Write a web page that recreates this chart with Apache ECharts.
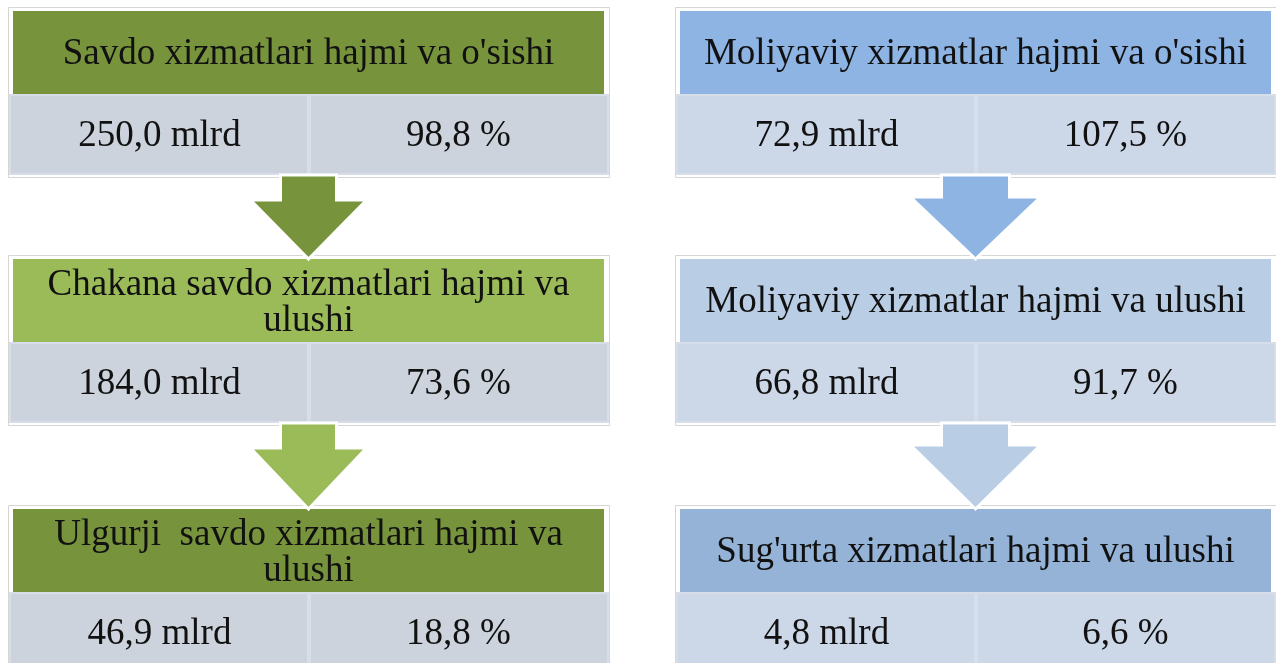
<!DOCTYPE html>
<html><head><meta charset="utf-8">
<script src="https://cdn.jsdelivr.net/npm/echarts@6/dist/echarts.min.js"></script>
<style>html,body{margin:0;padding:0;background:#fff;}#c{width:1276px;height:663px;}</style>
</head><body><div id="c"></div>
<script>
// ---- data ----
const panelNames = ['savdo', 'moliya'];
const savdoTitles = ["Savdo xizmatlari hajmi va o'sishi", "Chakana savdo xizmatlari hajmi va\nulushi", "Ulgurji  savdo xizmatlari hajmi va\nulushi"];
const savdoAmounts = [250.0, 184.0, 46.9];
const savdoShares = [98.8, 73.6, 18.8];
const moliyaTitles = ["Moliyaviy xizmatlar hajmi va o'sishi", "Moliyaviy xizmatlar hajmi va ulushi", "Sug'urta xizmatlari hajmi va ulushi"];
const moliyaAmounts = [72.9, 66.8, 4.8];
const moliyaShares = [107.5, 91.7, 6.6];
const amountUnit = 'mlrd';
const shareUnit = '%';

// ---- styles ----
const headerColors = [['#77933c', '#9bbb59', '#77933c'], ['#8eb4e3', '#b9cde5', '#95b3d7']];
const arrowColors = [['#77933c', '#9bbb59'], ['#8eb4e3', '#b9cde5']];
const cellColors = ['#ccd3dc', '#ccd7e8'];
const FONT = '"Liberation Serif", "Times New Roman", serif';
const FS = 37;

// ---- layout (axis units = pixels of a hidden grid) ----
const panelX = [8, 675];
const panelW = 601;
const boxTop = [7, 255, 505];
const arrowShaftHalf = [28, 34];
const arrowHeadHalf = [58, 65];

const titles = [savdoTitles, moliyaTitles];
const amounts = [savdoAmounts, moliyaAmounts];
const shares = [savdoShares, moliyaShares];
const fmt = v => v.toFixed(1).replace('.', ',');

const boxData = [];
panelNames.forEach((p, pi) => titles[pi].forEach((t, ri) => boxData.push([pi, ri])));
const arrowData = [];
panelNames.forEach((p, pi) => [0, 1].forEach(ai => arrowData.push([pi, ai])));

function renderBox(params, api) {
  const pi = api.value(0), ri = api.value(1);
  const x0 = panelX[pi], y0 = boxTop[ri];
  const P = (x, y) => api.coord([x, y]);
  const a = P(x0, y0), b = P(x0 + panelW, y0 + 170);
  const h1 = P(x0 + 5, y0 + 4), h2 = P(x0 + panelW - 5, y0 + 87);
  const c1 = P(x0 + 2, y0 + 88), c2 = P(x0 + panelW - 1, y0 + 167);
  const midX = (c1[0] + c2[0]) / 2;
  const title = titles[pi][ri];
  const twoLines = title.indexOf('\n') >= 0;
  const children = [
    { type: 'rect', shape: { x: a[0] + 0.5, y: a[1] + 0.5, width: b[0] - a[0], height: b[1] - a[1] },
      style: { fill: '#ffffff', stroke: '#d6d6d6', lineWidth: 1 } },
    { type: 'rect', shape: { x: h1[0], y: h1[1], width: h2[0] - h1[0], height: h2[1] - h1[1] },
      style: { fill: headerColors[pi][ri] } },
    { type: 'rect', shape: { x: c1[0], y: c1[1], width: midX - c1[0] - 1, height: c2[1] - c1[1] },
      style: { fill: cellColors[pi], stroke: '#d8dee9', lineWidth: 2 } },
    { type: 'rect', shape: { x: midX + 1, y: c1[1], width: c2[0] - midX - 1, height: c2[1] - c1[1] },
      style: { fill: cellColors[pi], stroke: '#d8dee9', lineWidth: 2 } },
    { type: 'text', style: { text: title, x: (h1[0] + h2[0]) / 2, y: (h1[1] + h2[1]) / 2 + (twoLines ? 3 : 2),
      align: 'center', verticalAlign: 'middle', fontFamily: FONT, fontSize: FS, lineHeight: 36, fill: '#111' } },
    { type: 'text', style: { text: fmt(amounts[pi][ri]) + ' ' + amountUnit, x: (c1[0] + midX) / 2, y: (c1[1] + c2[1]) / 2 + 2,
      align: 'center', verticalAlign: 'middle', fontFamily: FONT, fontSize: FS, fill: '#111' } },
    { type: 'text', style: { text: fmt(shares[pi][ri]) + ' ' + shareUnit, x: (midX + c2[0]) / 2, y: (c1[1] + c2[1]) / 2 + 2,
      align: 'center', verticalAlign: 'middle', fontFamily: FONT, fontSize: FS, fill: '#111' } }
  ];
  return { type: 'group', children };
}

function renderArrow(params, api) {
  const pi = api.value(0), ai = api.value(1);
  const cx = panelX[pi] + panelW / 2;
  const top = boxTop[ai] + 168;
  const headY = top + 25 - (pi === 1 ? 3 : 0);
  const tip = boxTop[ai + 1] + 4;
  const s = arrowShaftHalf[pi], h = arrowHeadHalf[pi];
  const pts = [[cx - s, top], [cx + s, top], [cx + s, headY], [cx + h, headY], [cx, tip], [cx - h, headY], [cx - s, headY]]
    .map(p => api.coord(p));
  return { type: 'polygon', shape: { points: pts },
    style: { fill: arrowColors[pi][ai], stroke: '#ffffff', lineWidth: 3, lineJoin: 'miter' } };
}

const chart = echarts.init(document.getElementById('c'));
chart.setOption({
  animation: false,
  grid: { left: 0, right: 0, top: 0, bottom: 0 },
  xAxis: { type: 'value', min: 0, max: 1276, show: false },
  yAxis: { type: 'value', min: 0, max: 663, inverse: true, show: false },
  series: [
    { type: 'custom', renderItem: renderBox, data: boxData, clip: false, z: 1 },
    { type: 'custom', renderItem: renderArrow, data: arrowData, clip: false, z: 2 }
  ]
});
</script></body></html>
